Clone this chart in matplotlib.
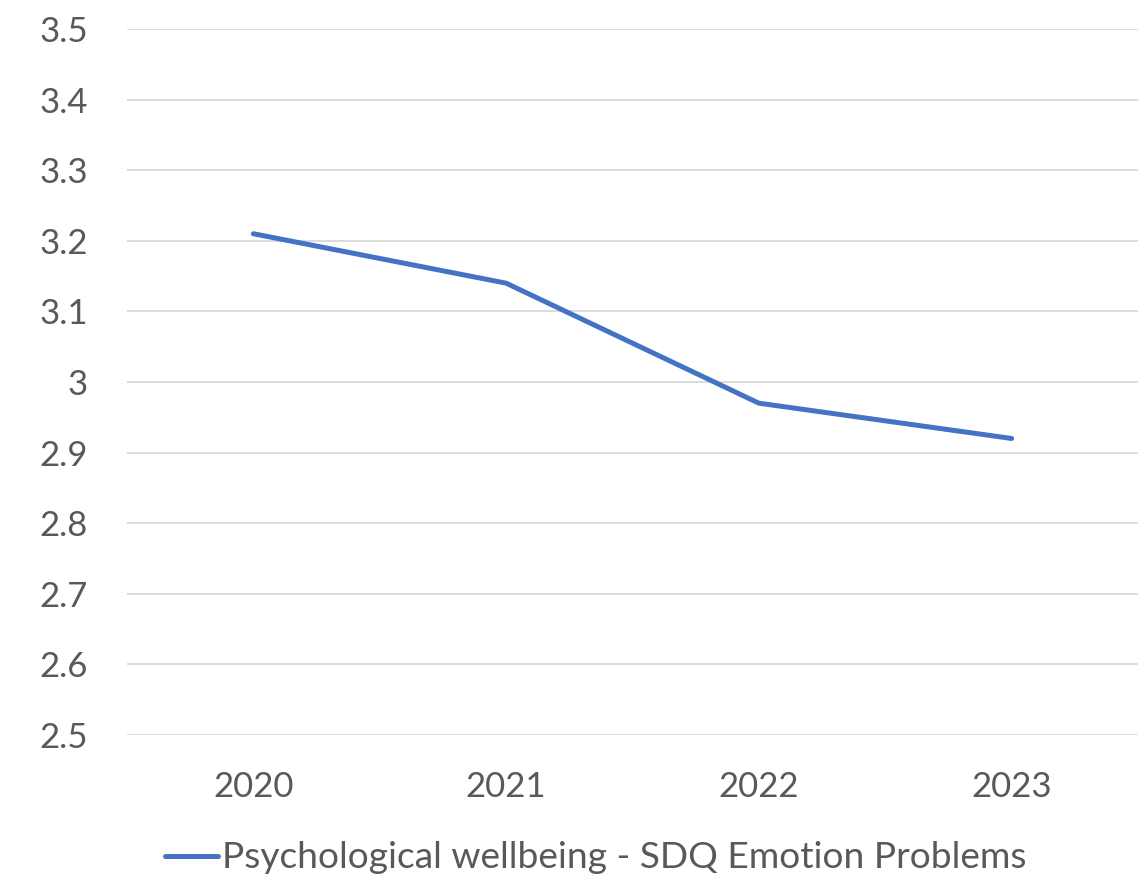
import matplotlib

matplotlib.use("Agg")

import matplotlib.pyplot as plt

YEARS = ["2020", "2021", "2022", "2023"]
SDQ_EMOTION = [3.21, 3.14, 2.97, 2.92]
SERIES_LABEL = "Psychological wellbeing - SDQ Emotion Problems"
Y_TICKS = [2.5, 2.6, 2.7, 2.8, 2.9, 3.0, 3.1, 3.2, 3.3, 3.4, 3.5]
Y_TICK_LABELS = ["2.5", "2.6", "2.7", "2.8", "2.9", "3", "3.1", "3.2", "3.3", "3.4", "3.5"]

TEXT_COLOR = "#595959"
GRID_COLOR = "#d9d9d9"
LINE_COLOR = "#4472c4"

plt.rcParams["font.family"] = ["Lato", "DejaVu Sans"]

W, H = 1138, 881
fig = plt.figure(figsize=(W / 100, H / 100), dpi=100, facecolor="white")
ax = fig.add_axes([127 / W, 1 - 735 / H, 1 - 127 / W, (735 - 29) / H])

x = range(len(YEARS))
ax.plot(x, SDQ_EMOTION, color=LINE_COLOR, linewidth=3.6,
        solid_capstyle="round", label=SERIES_LABEL, zorder=3)

ax.set_xlim(-0.5, len(YEARS) - 0.5)
ax.set_ylim(2.5, 3.5)
ax.set_xticks(list(x))
ax.set_xticklabels(YEARS)
ax.set_yticks(Y_TICKS)
ax.set_yticklabels(Y_TICK_LABELS)
ax.tick_params(axis="both", length=0, labelsize=25, labelcolor=TEXT_COLOR)
ax.tick_params(axis="y", pad=28)
ax.tick_params(axis="x", pad=26)
ax.grid(axis="y", color=GRID_COLOR, linewidth=1.3)
ax.set_axisbelow(True)
for spine in ax.spines.values():
    spine.set_visible(False)

fig.legend(loc="center", bbox_to_anchor=(596 / W, 1 - 858 / H), frameon=False,
           fontsize=26.7, labelcolor=TEXT_COLOR, handlelength=1.43,
           handletextpad=0.12)

fig.savefig("out.png", dpi=100, facecolor="white")
